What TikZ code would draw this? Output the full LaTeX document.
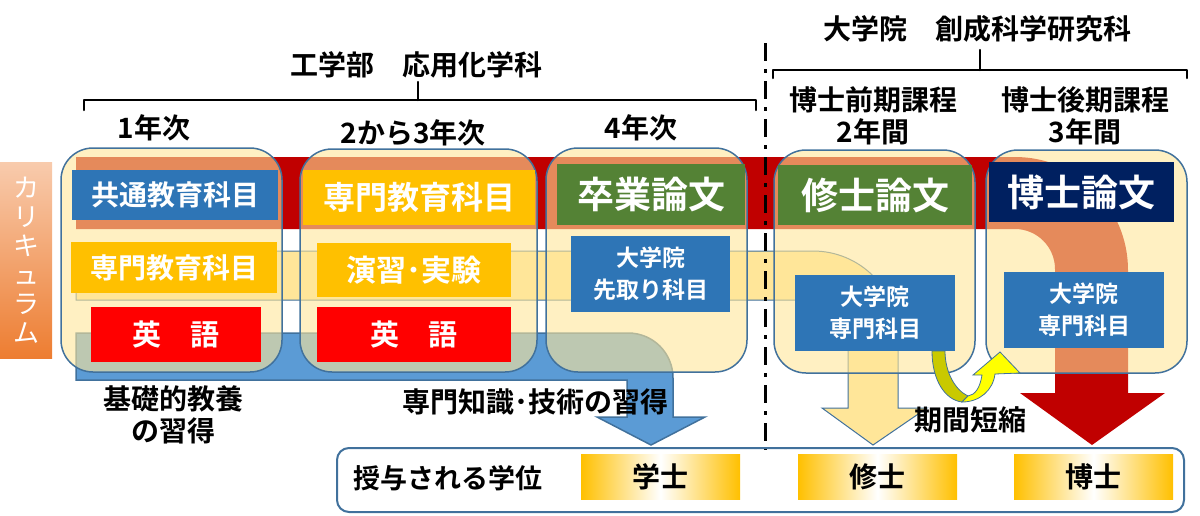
\documentclass[tikz,border=0pt]{standalone}
\usepackage{fontspec}
\setmainfont{Noto Sans CJK JP}[BoldFont={Noto Sans CJK JP Bold}]
\definecolor{boxline}{HTML}{41719C}
\definecolor{boxfill}{HTML}{FFE699}
\definecolor{bandred}{HTML}{C00000}
\definecolor{bandyel}{HTML}{FFE699}
\definecolor{bandblue}{HTML}{5B9BD5}
\definecolor{labblue}{HTML}{2E75B6}
\definecolor{labgold}{HTML}{FFC000}
\definecolor{labred}{HTML}{FF0000}
\definecolor{labgreen}{HTML}{548235}
\definecolor{labnavy}{HTML}{002060}
\definecolor{peach}{HTML}{F8CBAD}
\definecolor{orng}{HTML}{ED7D31}
\definecolor{olivey}{HTML}{C9C900}
\definecolor{brightyel}{HTML}{FFFF00}
\newcommand{\myfs}[2]{\fontsize{#1}{#2}\selectfont}
\tikzset{
  yrbox/.style={draw=boxline, line width=1.5pt, fill=boxfill, fill opacity=0.6, text opacity=1, rounded corners=32pt, inner sep=0pt, outer sep=0pt},
  lab/.style={inner sep=0pt, outer sep=0pt, text=white, align=center, font=\bfseries\myfs{#1}{#1}},
  lab/.default=26,
  lab2/.style={inner sep=0pt, outer sep=0pt, text=white, align=center, font=\bfseries\myfs{23}{32}},
  blk/.style={inner sep=0pt, outer sep=0pt, text=black, align=center, font=\bfseries\myfs{#1}{32}},
  blk/.default=28,
  bracel/.style={line width=2.5pt, line cap=round, line join=round},
  degbox/.style={inner sep=0pt, outer sep=0pt, left color=labgold, right color=labgold, middle color=white, minimum width=159pt, minimum height=45pt, text=black, font=\bfseries\myfs{28}{28}},
}
\begin{document}
\begin{tikzpicture}[x=1pt,y=-1pt]
\useasboundingbox (0,0) rectangle (1200,515);

% ---------- bands (bent arrows) ----------
% red
\fill[bandred] (76,157) -- (1015,157) .. controls (1077.4,157) and (1128,207.6) .. (1128,270)
  -- (1128,393) -- (1165,393) -- (1092,445) -- (1020,393) -- (1055,393) -- (1055,269)
  .. controls (1055,247) and (1037,229) .. (1015,229) -- (76,229) -- cycle;
% yellow
\filldraw[fill=bandyel, draw=boxline, line width=1pt] (76,251) -- (813,251) .. controls (860,251) and (898,289) .. (898,336)
  -- (898,408) -- (927,408) -- (873,445) -- (822,408) -- (848,408) -- (848,335)
  .. controls (848,316) and (832,300) .. (813,300) -- (76,300) -- cycle;
% blue
\filldraw[fill=bandblue, draw=boxline, line width=1.5pt] (76,333) -- (628,333) .. controls (653,333) and (673,353) .. (673,378)
  -- (673,417) -- (705,417) -- (651,445) -- (597,417) -- (627,417) -- (627,380) -- (76,380) -- cycle;

% ---------- year boxes ----------
\node[yrbox, minimum width=221pt, minimum height=224pt] (c1) at (171.5,260) {};
\node[yrbox, minimum width=237pt, minimum height=223pt] (c2) at (418.5,260.5) {};
\node[yrbox, minimum width=201pt, minimum height=224pt] (c3) at (646.5,260) {};
\node[yrbox, minimum width=201pt, minimum height=223pt] (c4) at (874.5,261.5) {};
\node[yrbox, minimum width=201pt, minimum height=223pt] (c5) at (1086.5,261.5) {};

% ---------- labels ----------
\node[lab=28, fill=labblue, minimum width=206pt, minimum height=50pt] (kyotsu) at (175,195) {共通教育科目};
\node[lab=28, fill=labgold, minimum width=206pt, minimum height=51pt] (senmon1) at (174,267.5) {専門教育科目};
\node[lab=29, fill=labred, minimum width=170pt, minimum height=55pt] (eigo1) at (176,334.5) {英　語};
\node[lab=32, fill=labgold, minimum width=232pt, minimum height=55pt] (senmon2) at (419,197.5) {専門教育科目};
\node[lab=30, fill=labgold, minimum width=194pt, minimum height=54pt] (enshu) at (414,270) {演習･実験};
\node[lab=29, fill=labred, minimum width=194pt, minimum height=55pt] (eigo2) at (414,334.5) {英　語};
\node[lab=37, fill=labgreen, minimum width=188pt, minimum height=61pt] (sotsuron) at (651,194.5) {卒業論文};
\node[lab2, fill=labblue, minimum width=159pt, minimum height=76pt] (sakidori) at (650.5,274) {大学院\\先取り科目};
\node[lab=37, fill=labgreen, minimum width=194pt, minimum height=60pt] (shuron) at (875,195) {修士論文};
\node[lab=37, fill=labnavy, minimum width=185pt, minimum height=60pt] (hakuron) at (1081.5,192) {博士論文};
\node[lab2, fill=labblue, minimum width=160pt, minimum height=76pt] (gs1) at (875,313) {大学院\\専門科目};
\node[lab2, fill=labblue, minimum width=160pt, minimum height=76pt] (gs2) at (1084,310) {大学院\\専門科目};

% ---------- curved "shortening" arrow ----------
\filldraw[fill=olivey, draw=boxline, line width=0.8pt] (932,351) .. controls (932,380) and (945,400) .. (962,402)
  -- (968,396) .. controls (955,390) and (945,372) .. (945,351) -- cycle;
\filldraw[fill=brightyel, draw=boxline, line width=0.8pt] (962,402) .. controls (980,402) and (993,390) .. (995,374)
  -- (1020,373) -- (1000,352) -- (973,375) -- (982,375) .. controls (980,388) and (975,395) .. (968,396) -- cycle;

% ---------- curriculum tag ----------
\node[top color=peach, bottom color=orng, minimum width=52pt, minimum height=196pt, inner sep=0pt, outer sep=0pt,
      text=white, align=center, font=\myfs{26}{29}] (curr) at (26,260) {カ\\リ\\キ\\ュ\\ラ\\ム};

% ---------- headers ----------
\node[blk] (kougaku) at (416,65) {工学部　応用化学科};
\draw[bracel] (84,110) -- (84,100) -- (756,100) -- (756,110);
\draw[bracel] (418,100) -- (418,82);
\node[blk] (y1) at (154,128) {1年次};
\node[blk] (y23) at (413,133) {2から3年次};
\node[blk] (y4) at (641,128) {4年次};

\node[blk] (daigakuin) at (977,29) {大学院　創成科学研究科};
\draw[bracel] (773,78) -- (773,70) -- (1187,70) -- (1187,78);
\draw[bracel] (980,70) -- (980,50);
\node[blk] (zenki) at (873,116) {博士前期課程\\2年間};
\node[blk] (kouki) at (1085,116) {博士後期課程\\3年間};

% ---------- divider ----------
\coordinate (dtop) at (765,43);
\coordinate (dbot) at (765,450);
\draw[line width=3pt, dash pattern=on 18pt off 8pt on 4pt off 8pt] (dtop) -- (dbot);

% ---------- notes ----------
\node[blk] (kiso) at (173,415) {基礎的教養\\の習得};
\node[blk] (senmonchishiki) at (535,402) {専門知識･技術の習得};
\node[blk] (tanshuku) at (970,420) {期間短縮};

% ---------- degrees ----------
\node[draw=boxline, line width=2pt, rounded corners=12pt, minimum width=847pt, minimum height=64pt, inner sep=0pt, outer sep=0pt] (degrees) at (760.5,480) {};
\node[blk=27] (juyo) at (448,478) {授与される学位};
\node[degbox] (gakushi) at (660.5,476.5) {学士};
\node[degbox] (shushi) at (877.5,476.5) {修士};
\node[degbox] (hakushi) at (1093.5,476.5) {博士};
\end{tikzpicture}
\end{document}
